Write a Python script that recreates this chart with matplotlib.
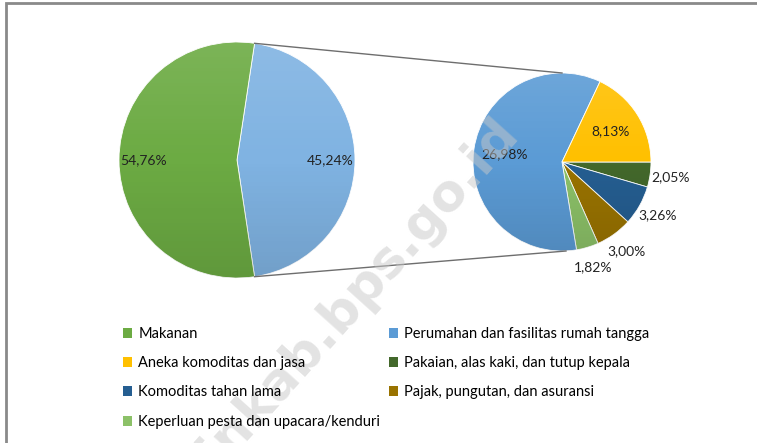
import numpy as np
import matplotlib as mpl

mpl.use('agg')

import matplotlib.pyplot as plt
from matplotlib.patches import Patch, Rectangle

# data
main_labels = ["Makanan", "Bukan makanan"]
main_values = [54.76, 45.24]

sub_labels = [
    "Pakaian, alas kaki, dan tutup kepala",
    "Komoditas tahan lama",
    "Pajak, pungutan, dan asuransi",
    "Keperluan pesta dan upacara/kenduri",
    "Perumahan dan fasilitas rumah tangga",
    "Aneka komoditas dan jasa",
]
sub_values = [2.05, 3.26, 3.00, 1.82, 26.98, 8.13]

legend_order = [
    "Makanan",
    "Aneka komoditas dan jasa",
    "Komoditas tahan lama",
    "Keperluan pesta dan upacara/kenduri",
    "Perumahan dan fasilitas rumah tangga",
    "Pakaian, alas kaki, dan tutup kepala",
    "Pajak, pungutan, dan asuransi",
]

colors = {
    "Makanan": "#6cab43",
    "Bukan makanan": "#80b3e2",
    "Perumahan dan fasilitas rumah tangga": "#5b9bd5",
    "Aneka komoditas dan jasa": "#ffc000",
    "Pakaian, alas kaki, dan tutup kepala": "#43682b",
    "Komoditas tahan lama": "#255e91",
    "Pajak, pungutan, dan asuransi": "#997300",
    "Keperluan pesta dan upacara/kenduri": "#8cc168",
}

W, H = 757, 443
FONT = "Lato"


def fmt(v):
    return ("%.2f" % v).replace(".", ",") + "%"


def shade(ax, wedges, c, r):
    # soft top-light / bottom-dark gradient like the office chart style
    t = np.linspace(0, 1, 64)[:, None, None]
    g = np.zeros((64, 1, 4))
    g[..., :3] = np.where(t < 0.5, 1.0, 0.0)
    g[..., 3] = (np.abs(t - 0.5) * 0.22)[..., 0]
    for w in wedges:
        im = ax.imshow(g, extent=(c[0] - r, c[0] + r, c[1] - r, c[1] + r),
                       origin="upper", aspect="auto", zorder=w.get_zorder() + 0.1)
        im.set_clip_path(w)


fig = plt.figure(figsize=(W / 100, H / 100), dpi=100)
ax = fig.add_axes([0, 0, 1, 1])

# main pie, the "other" slice centred on the right
c1 = (237, H - 160)
r1 = 118
other_angle = main_values[1] / sum(main_values) * 360
start1 = -other_angle / 2
w1, _ = ax.pie(main_values[::-1], colors=[colors[l] for l in main_labels[::-1]],
               center=c1, radius=r1, startangle=start1, counterclock=True,
               wedgeprops=dict(linewidth=0.6, edgecolor="white"))

# second pie
c2 = (562, H - 162)
r2 = 89
w2, _ = ax.pie(sub_values, colors=[colors[l] for l in sub_labels],
               center=c2, radius=r2, startangle=0, counterclock=False,
               wedgeprops=dict(linewidth=0.6, edgecolor="white"))

shade(ax, w1, c1, r1)
shade(ax, w2, c2, r2)

ax.set_xlim(0, W)
ax.set_ylim(0, H)
ax.set_aspect("auto")
ax.axis("off")

# percentage labels, main pie
for w, v in zip(w1, main_values[::-1]):
    a = np.deg2rad((w.theta1 + w.theta2) / 2)
    ax.text(c1[0] + 0.79 * r1 * np.cos(a), c1[1] + 0.79 * r1 * np.sin(a), fmt(v),
            ha="center", va="center", fontsize=10, family=FONT, color="#222222", zorder=4)

# percentage labels, second pie
for w, v in zip(w2, sub_values):
    a = np.deg2rad((w.theta1 + w.theta2) / 2)
    d = 0.65 if v > 5 else 1.23
    ax.text(c2[0] + d * r2 * np.cos(a), c2[1] + d * r2 * np.sin(a), fmt(v),
            ha="center", va="center", fontsize=10, family=FONT, color="#222222", zorder=4)

# connector lines
a_top = np.deg2rad(other_angle / 2)
ax.plot([c1[0] + r1 * np.cos(a_top), c2[0]], [c1[1] + r1 * np.sin(a_top), c2[1] + r2],
        color="#6e6e6e", lw=1.0)
ax.plot([c1[0] + r1 * np.cos(a_top), c2[0] + 4], [c1[1] - r1 * np.sin(a_top), c2[1] - r2],
        color="#6e6e6e", lw=1.0)

# legend in two columns
handles = [Patch(facecolor=colors[l], edgecolor="none") for l in legend_order]
leg_kw = dict(frameon=False, handlelength=0.65, handleheight=0.65, handletextpad=0.4,
              labelspacing=1.05, borderaxespad=0, prop=dict(family=FONT, size=10.5))
fig.legend(handles[:4], legend_order[:4], loc="upper left",
           bbox_to_anchor=(117 / W, 1 - 321 / H), **leg_kw)
fig.legend(handles[4:], legend_order[4:], loc="upper left",
           bbox_to_anchor=(383 / W, 1 - 321 / H), **leg_kw)

# outer chart border
fig.add_artist(Rectangle((6 / W, -0.1), 1.2, 1.1 - 3 / H, transform=fig.transFigure,
                         fill=False, edgecolor="#8a8a8a", lw=2))

# watermark
ax.text(520, H - 134, "banyuasinkab.bps.go.id", rotation=48, rotation_mode="anchor",
        ha="right", va="baseline", fontsize=37, fontweight="bold",
        color="#c8c8c8", alpha=0.5, zorder=5)

fig.savefig("out.png", dpi=100)
